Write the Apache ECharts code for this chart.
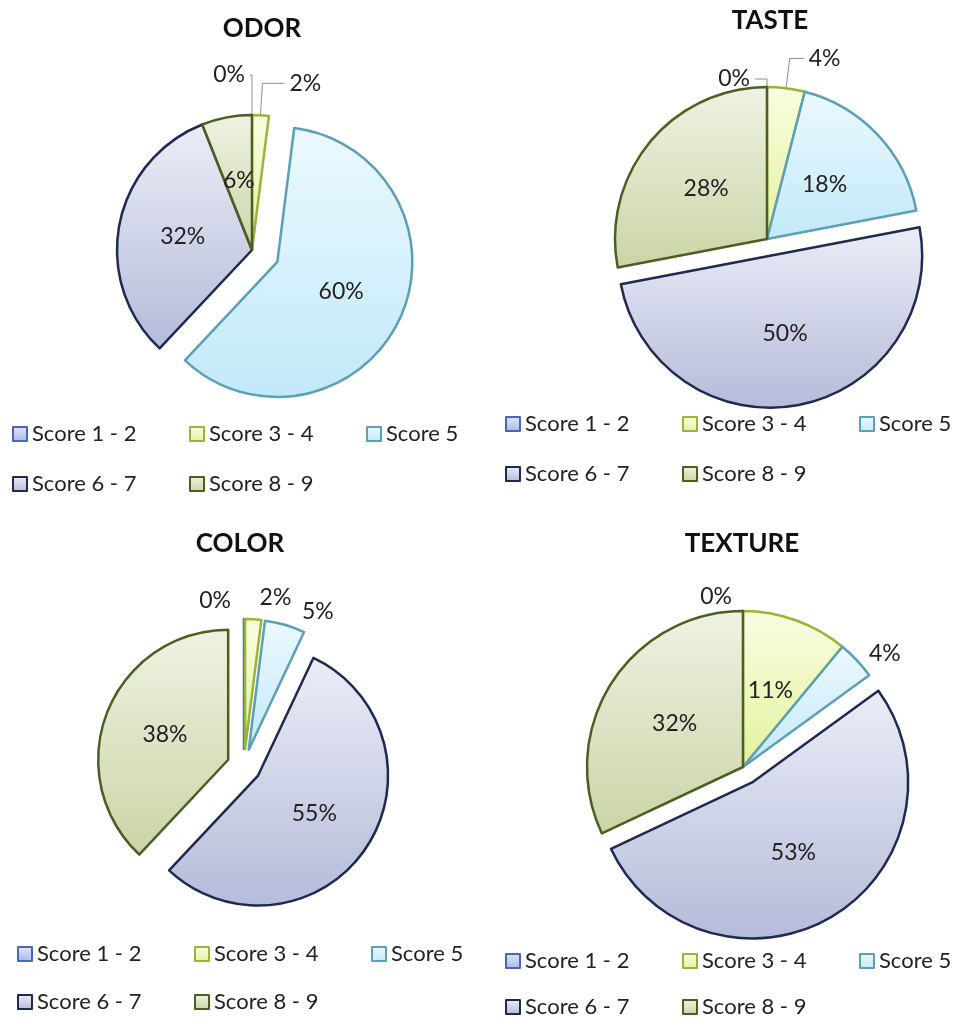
<!DOCTYPE html>
<html>
<head>
<meta charset="utf-8">
<title>Sensory scores</title>
<script src="https://cdn.jsdelivr.net/npm/echarts@6/dist/echarts.min.js"></script>
<style>
  html, body { margin: 0; background: #fff; }
  #chart { width: 960px; height: 1020px; }
</style>
</head>
<body>
<div id="chart"></div>
<script>
// data (percent of panelists)
const categories = ['Score 1 - 2', 'Score 3 - 4', 'Score 5', 'Score 6 - 7', 'Score 8 - 9'];
const odor = [0, 2, 60, 32, 6];
const taste = [0, 4, 18, 50, 28];
const color = [0, 2, 5, 55, 38];
const texture = [0, 11, 4, 53, 32];

// [gradient top, gradient bottom, edge] per score band
const bandStyle = [
  ['#e2e8fa', '#a7b7e8', '#4c66b4'],
  ['#fafde2', '#e2f29c', '#98b43a'],
  ['#ebf9fe', '#c2e9f9', '#5d9fb4'],
  ['#ebedf6', '#b5bbda', '#1f2a4e'],
  ['#eff2e2', '#cbd4a6', '#4b5f23']
];

const FONT = 'Lato';

function grad(top, bottom) {
  return {
    type: 'linear', x: 0, y: 0, x2: 0, y2: 1,
    colorStops: [{ offset: 0, color: top }, { offset: 1, color: bottom }]
  };
}

// per chart: which slices are pulled out, and outside labels [length, length2]
const charts = [
  { title: 'ODOR', values: odor, titleX: 262, titleY: 16, center: [252, 250], r: 135,
    exploded: [2], offset: 28, lines: true, outside: { 0: [40, 2], 1: [32, 22] } },
  { title: 'TASTE', values: taste, titleX: 770, titleY: 8, center: [767, 239], r: 152,
    exploded: [3], offset: 17, lines: true, outside: { 0: [8, 12], 1: [30, 14] } },
  { title: 'COLOR', values: color, titleX: 240, titleY: 531, center: [244, 766], r: 130,
    exploded: [0, 1, 2, 3, 4], offset: 17, lines: false, outside: { 0: [18, 8], 1: [22, 0], 2: [14, 8] } },
  { title: 'TEXTURE', values: texture, titleX: 742, titleY: 531, center: [743, 767], r: 156,
    exploded: [3], offset: 18, lines: false, outside: { 0: [14, 6], 2: [10, 0] } }
];

function buildData(c) {
  return c.values.map((v, i) => {
    const s = bandStyle[i];
    const item = {
      name: categories[i],
      value: v,
      itemStyle: { color: grad(s[0], s[1]), borderColor: s[2] }
    };
    if (c.exploded.indexOf(i) >= 0) item.selected = true;
    const out = c.outside[i];
    if (out) {
      item.label = { position: 'outside' };
      item.labelLine = { show: c.lines, length: out[0], length2: out[1] };
    }
    return item;
  });
}

const series = charts.map(c => ({
  type: 'pie',
  name: c.title,
  center: c.center,
  radius: c.r,
  startAngle: 90.01,
  clockwise: true,
  selectedMode: 'multiple',
  selectedOffset: c.offset,
  avoidLabelOverlap: false,
  labelLayout: { hideOverlap: false },
  animation: false,
  itemStyle: { borderWidth: 2.5 },
  label: {
    show: true,
    position: 'inside',
    formatter: '{c}%',
    fontFamily: FONT,
    fontSize: 23,
    color: '#222'
  },
  labelLine: {
    lineStyle: { color: '#8c8c8c', width: 1 },
    smooth: false
  },
  emphasis: { scale: false },
  data: buildData(c)
}));

const titles = charts.map(c => ({
  text: c.title,
  left: c.titleX,
  top: c.titleY,
  textAlign: 'center',
  padding: 0,
  textStyle: { fontFamily: FONT, fontSize: 26, fontWeight: 'bold', color: '#111' }
}));

// legend under each pie: 3 columns, 2 rows, one small legend per entry
const legendSpots = [
  [12, 423, 473],
  [505, 413, 463],
  [17, 943, 991],
  [505, 950, 996]
];
const COL_W = 177;
const legends = [];
legendSpots.forEach(p => {
  categories.forEach((name, i) => {
    legends.push({
      data: [name],
      left: p[0] + (i % 3) * COL_W,
      top: i < 3 ? p[1] : p[2],
      padding: 0,
      icon: 'rect',
      itemWidth: 14,
      itemHeight: 14,
      selectedMode: false,
      itemStyle: { borderWidth: 2 },
      textStyle: { fontFamily: FONT, fontSize: 22, color: '#222' }
    });
  });
});

const chart = echarts.init(document.getElementById('chart'));
chart.setOption({
  backgroundColor: '#fff',
  title: titles,
  legend: legends,
  series: series
});
</script>
</body>
</html>
